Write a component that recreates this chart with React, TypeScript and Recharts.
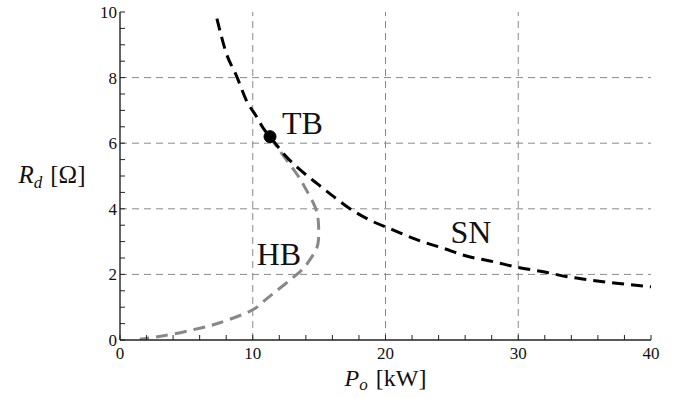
import { Line, LineChart, ReferenceDot, ReferenceLine, XAxis, YAxis } from "recharts";

// saddle-node (SN) branch
const snP = [7.3, 8.0, 8.8, 9.5, 10.3, 10.8, 11.3, 12.5, 13.6, 15, 16.1, 17.3, 18.8, 20.6, 22.4, 24.4, 26.1, 28.1, 30, 31.9, 33.7, 35.4, 37.4, 40];
const snR = [9.8, 8.75, 8.03, 7.32, 6.8, 6.45, 6.2, 5.6, 5.18, 4.72, 4.37, 4.01, 3.66, 3.35, 3.05, 2.79, 2.56, 2.39, 2.21, 2.08, 1.93, 1.83, 1.73, 1.62];

// Hopf (HB) branch, from TB point round to the origin
const hbP = [11.3, 11.8, 12.7, 13.5, 14.0, 14.7, 14.95, 14.95, 14.7, 14.05, 13.55, 12.2, 10.8, 9.7, 7.4, 6.0, 4.0, 2.3, 1.5];
const hbR = [6.2, 5.9, 5.4, 4.95, 4.6, 4.05, 3.55, 3.05, 2.7, 2.3, 2.08, 1.63, 1.17, 0.86, 0.51, 0.36, 0.18, 0.07, 0.02];

const tbPoint = { p: 11.3, r: 6.2 };

const curveLabels = [
  { text: "TB", p: 12.2, r: 6.28 },
  { text: "HB", p: 10.3, r: 2.29 },
  { text: "SN", p: 24.9, r: 2.96 },
];

const xTicks = [0, 2, 4, 6, 8, 10, 12, 14, 16, 18, 20, 22, 24, 26, 28, 30, 32, 34, 36, 38, 40];
const xMajor = [0, 10, 20, 30, 40];
const yTicks = [0, 0.5, 1, 1.5, 2, 2.5, 3, 3.5, 4, 4.5, 5, 5.5, 6, 6.5, 7, 7.5, 8, 8.5, 9, 9.5, 10];
const yMajor = [0, 2, 4, 6, 8, 10];
const xGrid = [10, 20, 30];
const yGrid = [2, 4, 6, 8];

const snData = snP.map((p, i) => ({ p, r: snR[i] }));
const hbData = hbP.map((p, i) => ({ p, r: hbR[i] }));

const FONT = "Liberation Serif";
const FRAME = "#222";
const textStyle = { fontFamily: FONT };

function BottomTick({ x, y, payload }: any) {
  const major = xMajor.includes(payload.value);
  return (
    <g>
      <line x1={x} x2={x} y1={y} y2={y - 5} stroke={FRAME} strokeWidth={1} />
      {major && (
        <text x={x} y={y + 19} textAnchor="middle" fontSize={17} style={textStyle} fill="#111">
          {payload.value}
        </text>
      )}
    </g>
  );
}

function TopTick({ x, y }: any) {
  return <line x1={x} x2={x} y1={y} y2={y + 5} stroke={FRAME} strokeWidth={1} />;
}

function LeftTick({ x, y, payload }: any) {
  const major = yMajor.includes(payload.value);
  return (
    <g>
      <line x1={x} x2={x + 5} y1={y} y2={y} stroke={FRAME} strokeWidth={1} />
      {major && (
        <text x={x - 3} y={y + 6} textAnchor="end" fontSize={17} style={textStyle} fill="#111">
          {payload.value}
        </text>
      )}
    </g>
  );
}

function RightTick({ x, y }: any) {
  return <line x1={x} x2={x - 5} y1={y} y2={y} stroke={FRAME} strokeWidth={1} />;
}

function YLabel({ viewBox }: any) {
  const cx = viewBox.x + 52;
  const cy = viewBox.y + viewBox.height / 2 + 7;
  return (
    <text x={cx} y={cy} textAnchor="middle" fontSize={25} style={textStyle} fill="#111">
      <tspan fontStyle="italic">R</tspan>
      <tspan fontStyle="italic" fontSize={17} dy={5}>d</tspan>
      <tspan dy={-5} dx={8}>[Ω]</tspan>
    </text>
  );
}

function XLabel({ viewBox }: any) {
  const cx = viewBox.x + viewBox.width / 2;
  const cy = viewBox.y + 46;
  return (
    <text x={cx} y={cy} textAnchor="middle" fontSize={24} style={textStyle} fill="#111">
      <tspan fontStyle="italic">P</tspan>
      <tspan fontStyle="italic" fontSize={17} dy={4}>o</tspan>
      <tspan dy={-4} dx={8}>[kW]</tspan>
    </text>
  );
}

function CurveText({ cx, cy, text }: any) {
  return (
    <text x={cx} y={cy} fontSize={32} style={textStyle} fill="#111">
      {text}
    </text>
  );
}

export default function App() {
  return (
    <div style={{ position: "absolute", left: 0, top: 0, background: "#fff", fontFamily: FONT }}>
      <LineChart width={685} height={398} margin={{ top: 12, right: 34, left: 0, bottom: 0 }}>
        <XAxis
          dataKey="p"
          type="number"
          domain={[0, 40]}
          ticks={xTicks}
          interval={0}
          height={58}
          tickSize={0}
          tickMargin={0}
          tickLine={false}
          axisLine={{ stroke: FRAME, strokeWidth: 1.4 }}
          tick={<BottomTick />}
          label={{ content: <XLabel /> }}
          allowDataOverflow
        />
        <XAxis
          xAxisId="top"
          orientation="top"
          type="number"
          domain={[0, 40]}
          ticks={xTicks}
          interval={0}
          height={0}
          tickSize={0}
          tickMargin={0}
          tickLine={false}
          axisLine={{ stroke: FRAME, strokeWidth: 1.4 }}
          tick={<TopTick />}
          allowDataOverflow
        />
        <YAxis
          type="number"
          domain={[0, 10]}
          ticks={yTicks}
          interval={0}
          width={120}
          tickSize={0}
          tickMargin={0}
          tickLine={false}
          axisLine={{ stroke: FRAME, strokeWidth: 1.4 }}
          tick={<LeftTick />}
          label={{ content: <YLabel /> }}
          allowDataOverflow
        />
        <YAxis
          yAxisId="right"
          orientation="right"
          type="number"
          domain={[0, 10]}
          ticks={yTicks}
          interval={0}
          width={0}
          tickSize={0}
          tickMargin={0}
          tickLine={false}
          axisLine={{ stroke: FRAME, strokeWidth: 1.4 }}
          tick={<RightTick />}
          allowDataOverflow
        />
        {xGrid.map((v) => (
          <ReferenceLine key={"gx" + v} x={v} stroke="#8a8a8a" strokeDasharray="7 5" strokeWidth={1} />
        ))}
        {yGrid.map((v) => (
          <ReferenceLine key={"gy" + v} y={v} stroke="#8a8a8a" strokeDasharray="7 5" strokeWidth={1} />
        ))}
        <Line
          data={hbData}
          dataKey="r"
          type="natural"
          stroke="#888888"
          strokeWidth={3}
          strokeDasharray="12 7"
          dot={false}
          isAnimationActive={false}
        />
        <Line
          data={snData}
          dataKey="r"
          type="monotone"
          stroke="#000"
          strokeWidth={3}
          strokeDasharray="12 7"
          dot={false}
          isAnimationActive={false}
        />
        <ReferenceDot x={tbPoint.p} y={tbPoint.r} r={6} fill="#000" stroke="#000" />
        {curveLabels.map((l) => (
          <ReferenceDot
            key={l.text}
            x={l.p}
            y={l.r}
            r={0}
            shape={(props: any) => <CurveText {...props} text={l.text} />}
          />
        ))}
      </LineChart>
    </div>
  );
}
